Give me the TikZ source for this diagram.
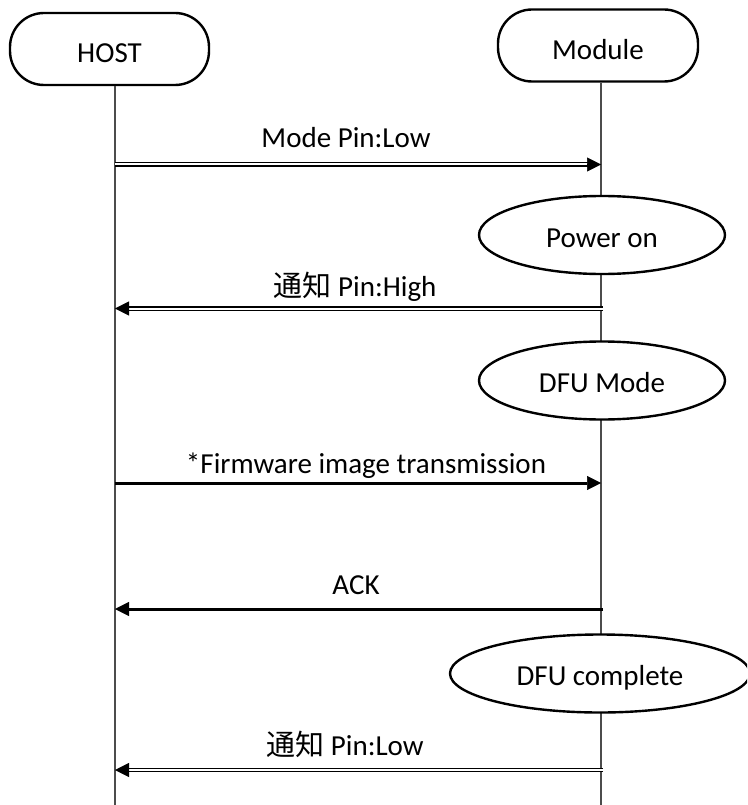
\documentclass[tikz,border=0pt]{standalone}
\usepackage{fontspec}
\setmainfont{Carlito}
\newfontfamily\cjk{Noto Sans CJK JP}
\usetikzlibrary{arrows.meta,shapes.geometric}
\tikzset{
  actor/.style={draw, line width=2.4pt, rounded corners=34pt, minimum height=72pt,
    inner sep=0pt, text height=31pt, text depth=3pt, font=\fontsize{29}{34}\selectfont},
  state/.style={ellipse, draw, fill=white, line width=2.4pt, inner sep=0pt,
    minimum height=78pt, text height=25pt, text depth=1pt, font=\fontsize{29}{34}\selectfont},
  lifeline/.style={line width=1.6pt, draw=black!70},
  dblmsg/.style={double, line width=1.4pt, double distance=2pt},
  tipmsg/.style={line width=1pt, -{Triangle[length=14pt,width=14pt,line width=0.5pt]}},
  msg/.style={line width=3pt, -{Triangle[length=14pt,width=14pt,line width=0.5pt]}},
  lbl/.style={anchor=base, inner sep=0pt, font=\fontsize{29}{34}\selectfont},
}
\begin{document}
\begin{tikzpicture}[x=1pt,y=-1pt]
\path[use as bounding box] (0,0) rectangle (747,805);
\clip (0,0) rectangle (747,805);

% actors
\node[actor, minimum width=199pt] (host) at (109.5,49) {HOST};
\node[actor, minimum width=200pt] (mod) at (598,45.5) {Module};

% lifeline ends
\coordinate (hend) at (115,805);
\coordinate (mend) at (601,805);
\draw[lifeline] (hend |- host.south) -- (hend);
\draw[lifeline] (mend |- mod.south) -- (mend);

% message anchor points
\coordinate (h1) at (115,164.5);  \coordinate (m1) at (601,164.5);
\coordinate (h2) at (115,308.5);  \coordinate (m2) at (603,308.5);
\coordinate (h3) at (115,483);    \coordinate (m3) at (601,483);
\coordinate (h4) at (115,609);    \coordinate (m4) at (603,609);
\coordinate (h5) at (115,770);    \coordinate (m5) at (603,770);

% 1: Mode Pin:Low
\draw[dblmsg] (h1) -- ([xshift=-10pt]m1);
\draw[tipmsg] ([xshift=-12pt]m1) -- (m1);
\node[lbl] (l1) at (346,148) {Mode Pin:Low};

% state: Power on
\node[state, minimum width=246pt] (pon) at (602,235) {Power on};

% 2: 通知 Pin:High
\draw[dblmsg] (m2) -- ([xshift=10pt]h2);
\draw[tipmsg] ([xshift=12pt]h2) -- (h2);
\node[lbl] (l2) at (355,296) {{\cjk 通知} Pin:High};

% state: DFU Mode
\node[state, minimum width=246pt] (dfu) at (602,380.5) {DFU Mode};

% 3: Firmware image transmission
\draw[msg] (h3) -- (m3);
\node[lbl] (l3) at (366,473) {*Firmware image transmission};

% 4: ACK
\draw[msg] (m4) -- (h4);
\node[lbl] (l4) at (356,594) {ACK};

% state: DFU complete
\node[state, minimum width=300pt] (done) at (600,673.5) {DFU complete};

% 5: 通知 Pin:Low
\draw[dblmsg] (m5) -- ([xshift=10pt]h5);
\draw[tipmsg] ([xshift=12pt]h5) -- (h5);
\node[lbl] (l5) at (345,755) {{\cjk 通知} Pin:Low};
\end{tikzpicture}
\end{document}
